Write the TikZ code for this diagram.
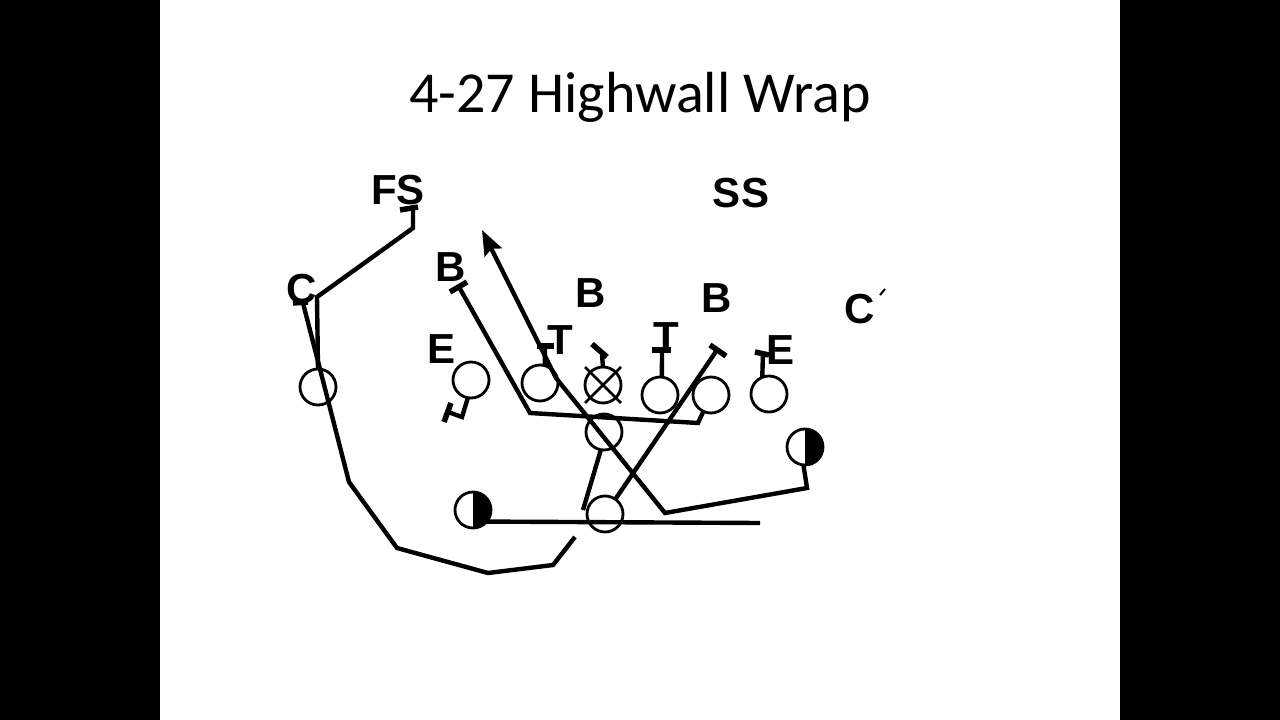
\documentclass[tikz,border=0pt]{standalone}
\usepackage{fontspec}
\setmainfont{Carlito}
\newfontfamily\labelfont{Liberation Sans}
\usetikzlibrary{arrows.meta, calc}

\begin{document}
\begin{tikzpicture}[
    x=1pt, y=-1pt,
    player/.style={circle, draw, line width=2.8pt, minimum size=36pt,
                  inner sep=0pt, outer sep=0pt},
    halfback/.style={player, path picture={\fill (path picture bounding box.north)
                  rectangle (path picture bounding box.south east);}},
    defender/.style={font=\labelfont\bfseries\fontsize{42}{42}\selectfont, inner sep=0pt},
    route/.style={line width=4.4pt},
    blk/.style={line width=5.5pt},
    arrow/.style={route, -{Stealth[length=25pt, width=19pt, inset=4pt]}}
]

% Frame
\fill[black] (0,0) rectangle (1280,720);
\fill[white] (160,0) rectangle (1120,720);
\useasboundingbox (0,0) rectangle (1280,720);

% Title
\node[font=\fontsize{58}{58}\selectfont, anchor=base] (title) at (640,112) {4-27 Highwall Wrap};

% Defense
\node[defender] (fs) at (398,190) {FS};
\node[defender] (ss) at (741,193) {SS};
\node[defender] (lc) at (302,289) {C};
\node[defender] (rc) at (860,309) {C};
\node[defender] (lb1) at (451,267) {B};
\node[defender] (lb2) at (591,293) {B};
\node[defender] (lb3) at (717,298) {B};
\node[defender] (lde) at (442,349) {E};
\node[defender] (ldt) at (560,340) {T};
\node[defender] (rdt) at (666,337) {T};
\node[defender] (rde) at (780,350) {E};

% Offense
\node[player] (lwr) at (318,387) {};
\node[player] (le) at (471,380) {};
\node[player] (lg) at (540,383) {};
\node[player] (ctr) at (603,385) {};
\node[player] (rg) at (660,395) {};
\node[player] (rt) at (711,395) {};
\node[player] (te) at (769,394) {};
\node[player] (qb) at (604,432) {};
\node[player] (fb) at (605,514) {};
\node[halfback] (lhb) at (473,510) {};
\node[halfback] (rhb) at (805,447) {};
\draw[line width=2.8pt] (ctr.north -| ctr.west) -- (ctr.south -| ctr.east)
                        (ctr.north -| ctr.east) -- (ctr.south -| ctr.west);

% Free ends
\coordinate (fsblk) at (413,209);
\coordinate (lcblk) at (303,303);
\coordinate (wrap) at (575,537);
\coordinate (lhbend) at (760,523);
\coordinate (qbend) at (583,510);
\coordinate (b3blk) at (717,350);
\coordinate (b1blk) at (459,287);
\coordinate (deep) at (482,230);
\coordinate (leblk) at (448,412);
\coordinate (dtblk) at (545,346);
\coordinate (ctrblk) at (602,355);
\coordinate (rgblk) at (662,350);
\coordinate (teblk) at (763,353);

% Routes
\draw[route] (lwr.north) -- (317,297) -- (413,228) -- (fsblk);
\draw[route] (wrap) -- (553,565) -- (488,573) -- (397,548) -- (349,482) -- (lcblk);
\draw[route] (lhb.-40) -- (lhbend);
\draw[route] (qb.-100) -- (qbend);
\draw[route] (fb.55) -- (b3blk);
\draw[route] (rt.-115) -- (698,423) -- (530,413) -- (b1blk);
\draw[arrow] (rhb.-95) -- (807,488) -- (665,513) -- (556,378) -- (deep);
\draw[route] (le.-100) -- (462,417) -- (leblk);
\draw[route] (lg.75) -- (dtblk);
\draw[route] (ctr.north) -- (ctrblk);
\draw[route] (rg.84) -- (rgblk);
\draw[route] (te.112) -- (teblk);

% Blocks
\draw[blk, shift={(fsblk)}] (-13,1) -- (5,-2);
\draw[blk, shift={(lcblk)}] (-10,0) -- (5,-1);
\draw[blk, shift={(b1blk)}] (-9,5) -- (8,-5);
\draw[blk, shift={(b3blk)}] (-7,-5) -- (9,6);
\draw[blk, shift={(leblk)}] (-4,10) -- (3,-9);
\draw[blk, shift={(dtblk)}] (-8,0) -- (9,0);
\draw[blk, shift={(ctrblk)}] (-10,-11) -- (5,2);
\draw[blk, shift={(rgblk)}] (-10,0) -- (9,0);
\draw[blk, shift={(teblk)}] (-8,-1) -- (6,2);
\draw[line width=2pt] ($(rc)+(20,-14)$) -- ($(rc)+(25,-20)$);

\end{tikzpicture}
\end{document}
